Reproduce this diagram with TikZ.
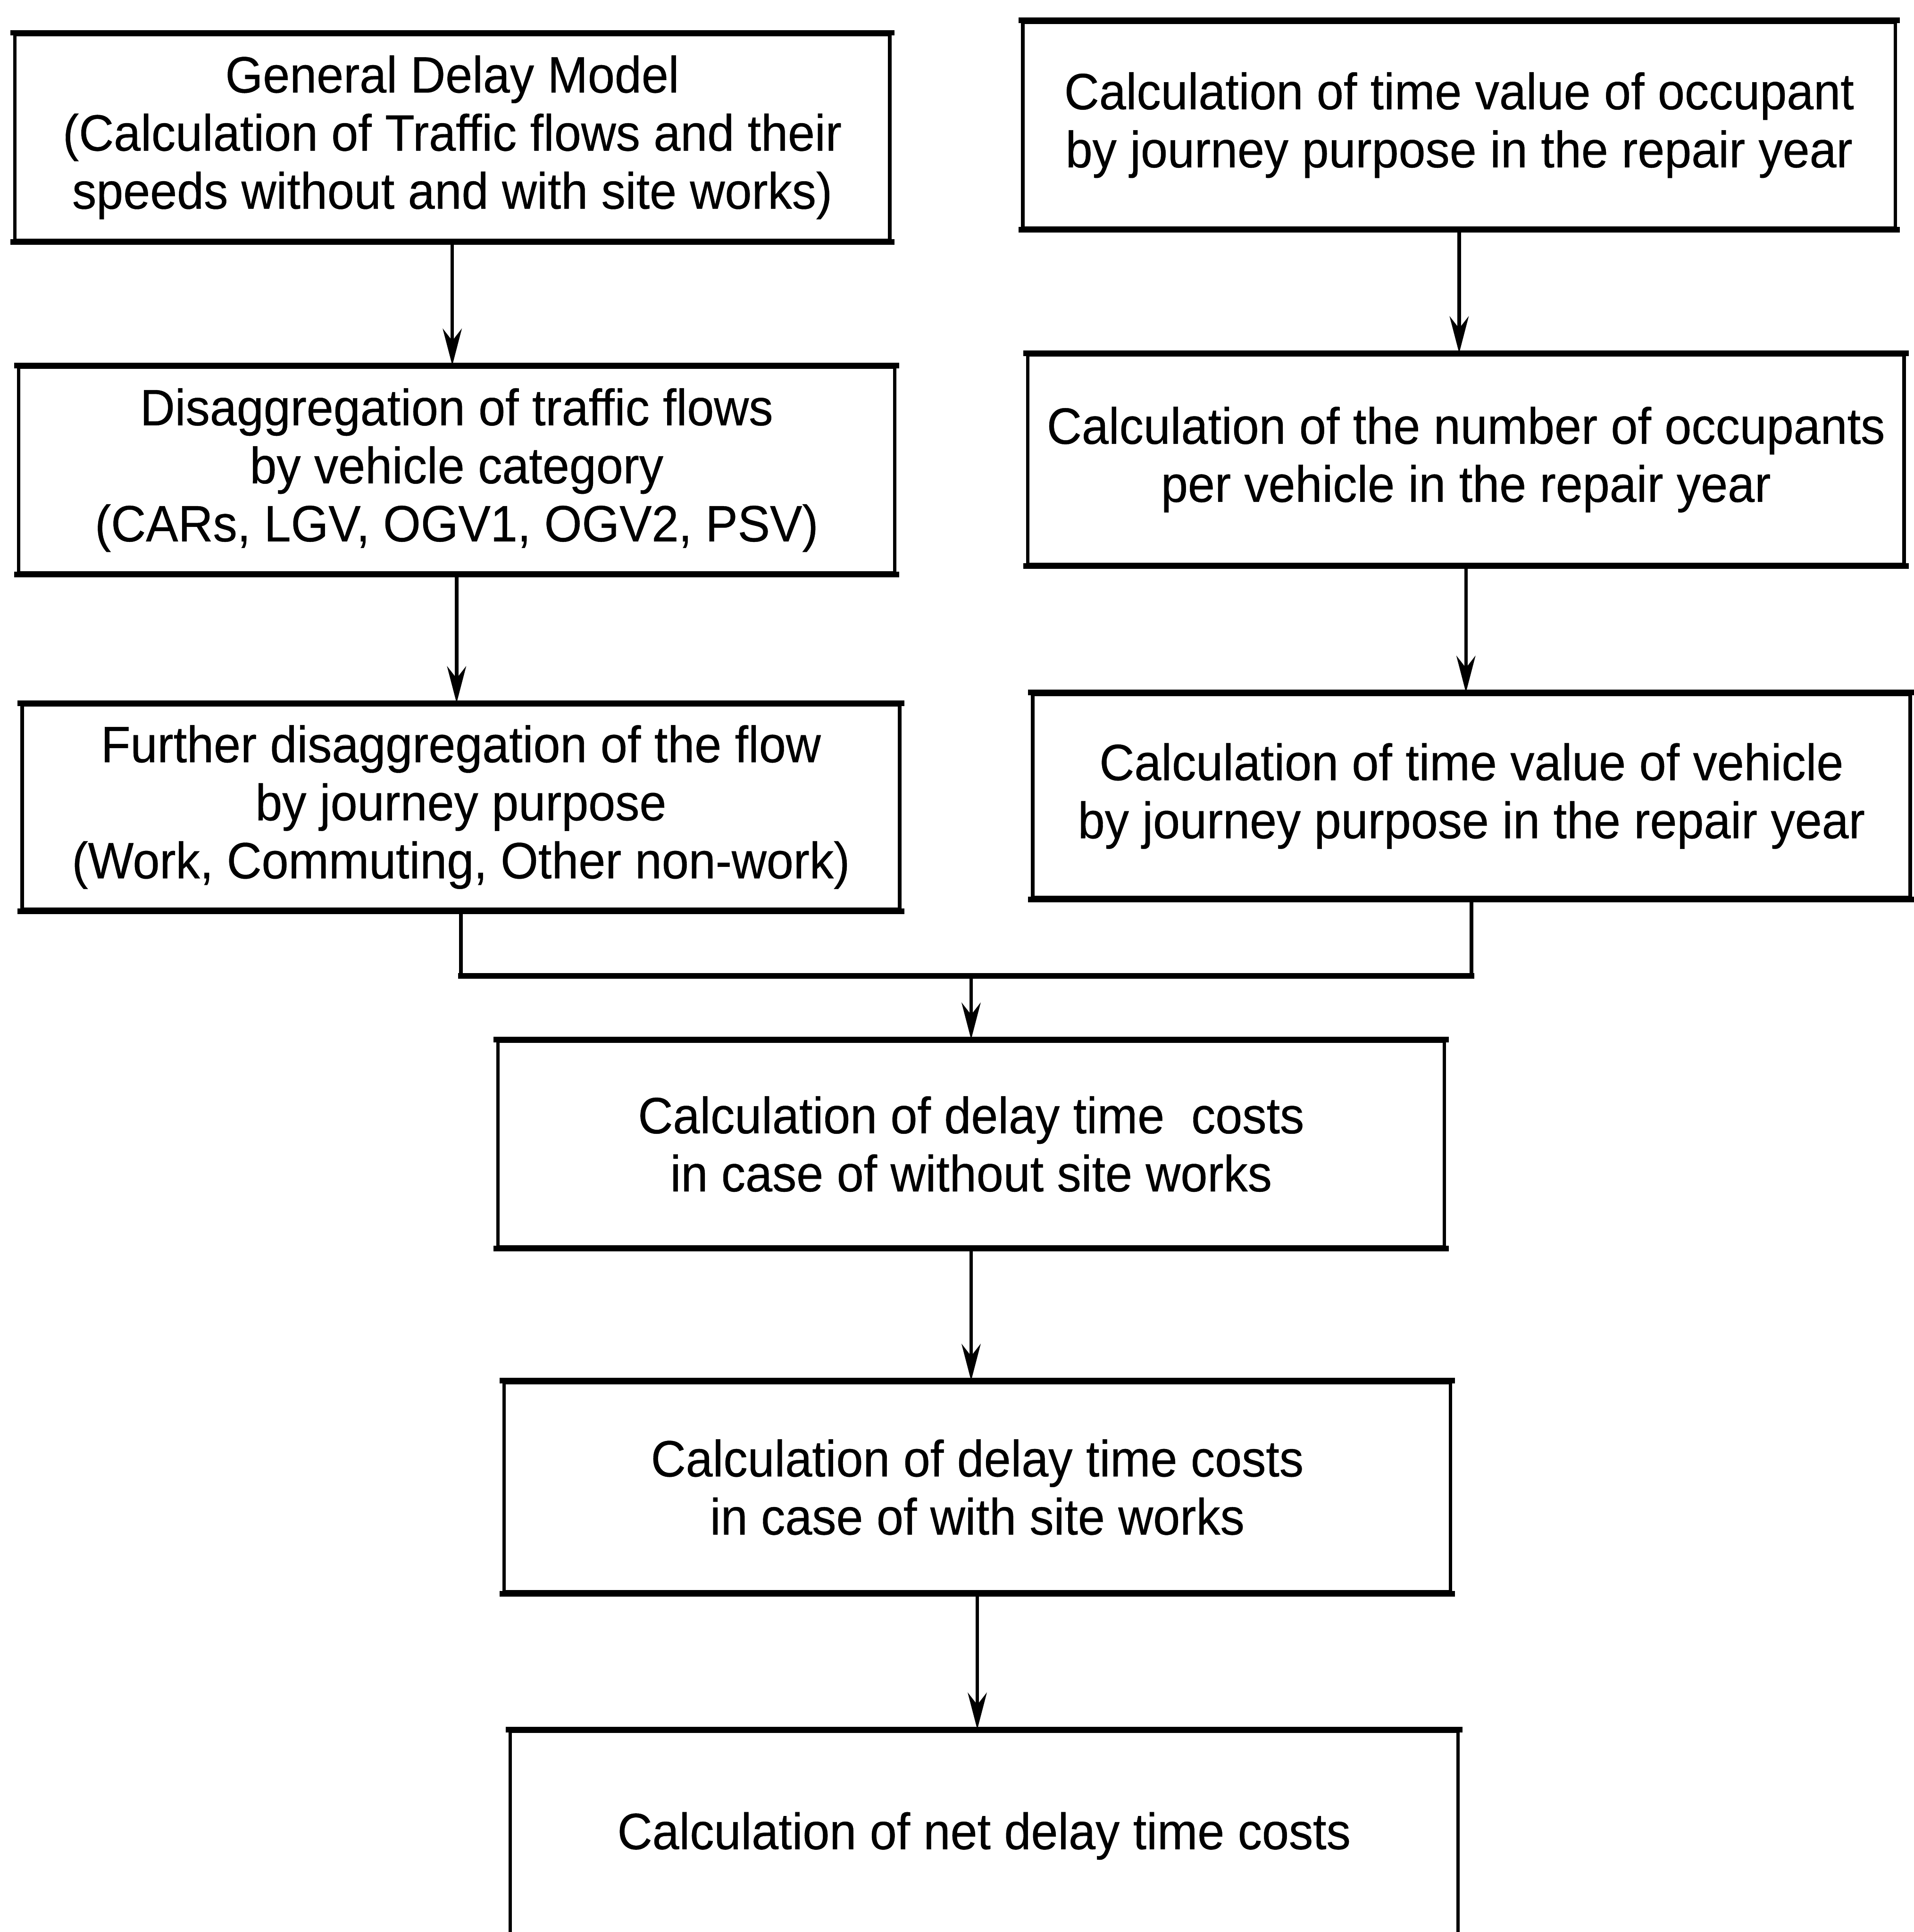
\documentclass[tikz,border=0pt]{standalone}
\usepackage{fontspec}
\setmainfont{Liberation Sans}[FakeStretch=0.945,FakeBold=0.4]
\usetikzlibrary{arrows.meta}
\begin{document}
\begin{tikzpicture}[x=0.01cm,y=-0.01cm,
  stepbox/.style={draw=black,line width=0.8pt,inner sep=0pt,align=center,
    font=\fontsize{11.8}{13.4}\selectfont},
  hedge/.style={line width=1.3pt,line cap=rect},
  link/.style={line width=0.8pt},
  arr/.style={line width=0.8pt,-{Stealth[length=8.5pt,width=4.4pt,inset=2.8pt]}}]
% page frame
\clip (0,0) rectangle (1553,1568);
\useasboundingbox (0,0) rectangle (1553,1568);
\fill[white] (0,0) rectangle (1553,1568);
% boxes: left column, right column, then the central chain
\node[stepbox,minimum width={710*0.01cm},minimum height={167*0.01cm}] (gdm) at (367,111.5)
  {General Delay Model\\(Calculation of Traffic flows and their\\speeds without and with site works)};
\node[stepbox,minimum width={708*0.01cm},minimum height={167*0.01cm}] (tvo) at (1184,101.5)
  {Calculation of time value of occupant\\by journey purpose in the repair year};
\node[stepbox,minimum width={711*0.01cm},minimum height={167*0.01cm}] (dis) at (370.5,381.5)
  {Disaggregation of traffic flows\\by vehicle category\\(CARs, LGV, OGV1, OGV2, PSV)};
\node[stepbox,minimum width={711*0.01cm},minimum height={170*0.01cm}] (noc) at (1189.5,373)
  {Calculation of the number of occupants\\per vehicle in the repair year};
\node[stepbox,minimum width={712*0.01cm},minimum height={166*0.01cm}] (fur) at (374,655)
  {Further disaggregation of the flow\\by journey purpose\\(Work, Commuting, Other non-work)};
\node[stepbox,minimum width={712*0.01cm},minimum height={165*0.01cm}] (tvv) at (1194,646)
  {Calculation of time value of vehicle\\by journey purpose in the repair year};
\node[stepbox,minimum width={768*0.01cm},minimum height={167*0.01cm}] (dwo) at (788,928.5)
  {Calculation of delay time~ costs\\in case of without site works};
\node[stepbox,minimum width={768*0.01cm},minimum height={170*0.01cm}] (dws) at (793,1207)
  {Calculation of delay time costs\\in case of with site works};
\node[stepbox,minimum width={769*0.01cm},minimum height={170*0.01cm}] (net) at (798.5,1490)
  {Calculation of net delay time costs};
% heavier horizontal edges
\foreach \n in {gdm,tvo,dis,noc,fur,tvv,dwo,dws,net}{
  \draw[hedge] (\n.north west) -- (\n.north east);
  \draw[hedge] (\n.south west) -- (\n.south east);
}
% connectors
\coordinate (mj) at (788,792);
\draw[arr] (gdm.south) -- (gdm.south |- dis.north);
\draw[arr] (dis.south) -- (dis.south |- fur.north);
\draw[arr] (tvo.south) -- (tvo.south |- noc.north);
\draw[arr] (noc.south) -- (noc.south |- tvv.north);
\draw[link] (fur.south) -- (fur.south |- mj);
\draw[link] (tvv.south) -- (tvv.south |- mj);
\draw[hedge] (fur.south |- mj) -- (tvv.south |- mj);
\draw[arr] (mj) -- (mj |- dwo.north);
\draw[arr] (dwo.south) -- (dwo.south |- dws.north);
\draw[arr] (dws.south) -- (dws.south |- net.north);
\end{tikzpicture}
\end{document}
